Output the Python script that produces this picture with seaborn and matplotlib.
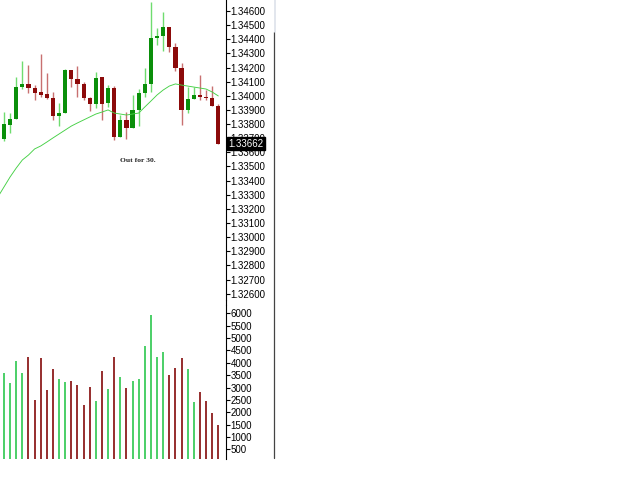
import numpy as np
import pandas as pd
import matplotlib
matplotlib.use("Agg")
import matplotlib.pyplot as plt
import seaborn as sns
from matplotlib.lines import Line2D

# ---------------- data ----------------
opens = [1.33691, 1.33792, 1.33839, 1.34059, 1.34087, 1.34052, 1.34026, 1.34010, 1.33988,
         1.33856, 1.33875, 1.34182, 1.34116, 1.34083, 1.33981, 1.33941, 1.34135, 1.33946,
         1.34052, 1.33705, 1.33828, 1.33773, 1.33903, 1.34017, 1.34083, 1.34406, 1.34423,
         1.34484, 1.34347, 1.34198, 1.33903, 1.33974, 1.34009, 1.33993, 1.33988, 1.33927]
highs = [1.33887, 1.33875, 1.34135, 1.34246, 1.34217, 1.34080, 1.34293, 1.34163, 1.34028,
         1.33946, 1.34187, 1.34182, 1.34210, 1.34099, 1.33995, 1.34170, 1.34135, 1.34076,
         1.34068, 1.33863, 1.33887, 1.34009, 1.34045, 1.34194, 1.34666, 1.34477, 1.34595,
         1.34484, 1.34371, 1.34229, 1.34059, 1.34059, 1.34146, 1.34040, 1.34068, 1.33941]
lows = [1.33680, 1.33738, 1.33839, 1.34045, 1.34017, 1.33969, 1.33995, 1.33980, 1.33828,
        1.33785, 1.33875, 1.34059, 1.33995, 1.33969, 1.33894, 1.33917, 1.33828, 1.33922,
        1.33686, 1.33705, 1.33691, 1.33773, 1.33785, 1.33993, 1.34028, 1.34360, 1.34319,
        1.34312, 1.34177, 1.33792, 1.33880, 1.33974, 1.33969, 1.33970, 1.33927, 1.33662]
closes = [1.33797, 1.33839, 1.34059, 1.34087, 1.34052, 1.34021, 1.34005, 1.33986, 1.33856,
          1.33875, 1.34182, 1.34116, 1.34083, 1.33981, 1.33941, 1.34128, 1.33941, 1.34052,
          1.33705, 1.33828, 1.33773, 1.33903, 1.34017, 1.34083, 1.34406, 1.34423, 1.34484,
          1.34347, 1.34198, 1.33903, 1.33974, 1.34009, 1.33993, 1.33988, 1.33927, 1.33662]
ma_values = [1.33284, 1.33355, 1.33426, 1.33489, 1.33546, 1.33581, 1.33624, 1.33645, 1.33673,
             1.33702, 1.33730, 1.33758, 1.33786, 1.33808, 1.33829, 1.33850, 1.33871, 1.33885,
             1.33900, 1.33878, 1.33871, 1.33864, 1.33871, 1.33878, 1.33921, 1.33963, 1.34006,
             1.34041, 1.34069, 1.34084, 1.34076, 1.34069, 1.34062, 1.34055, 1.34048, 1.34027,
             1.33999]
volumes = [3572, 3195, 4072, 3572, 4220, 2495, 4180, 2900, 3749, 3331, 3209, 3277, 3101,
           2292, 3007, 2468, 3654, 2927, 4220, 3413, 2995, 3264, 3331, 4679, 5933, 4247,
           4435, 3506, 3776, 4180, 3735, 2400, 2832, 2468, 1982, 1483]
last_price = 1.33662
price_ticks = [round(1.326 + 0.001 * k, 3) for k in range(21)]
volume_ticks = list(range(500, 6001, 500))
note_text = "Out for 30."

# ---------------- style ----------------
sns.set_style("white")
plt.rcParams["font.family"] = ["Liberation Sans", "DejaVu Sans"]

W, H = 625, 483
fig = plt.figure(figsize=(W / 100, H / 100), dpi=100)

def fx(px):
    return px / W

def fy(py):
    return 1 - py / H

ax_left, ax_right = 0, 226
p_top, p_bot = 0, 300
v_top, v_bot = 305, 459

axp = fig.add_axes([fx(ax_left), fy(p_bot), fx(ax_right - ax_left), (p_bot - p_top) / H])
axv = fig.add_axes([fx(ax_left), fy(v_bot), fx(ax_right - ax_left), (v_bot - v_top) / H])

idx = np.arange(len(opens))
o = np.array(opens); c = np.array(closes); h = np.array(highs); l = np.array(lows)
up = c >= o

green_body = "#0a8f0a"
green_wick = "#6fdc6f"
red_body = "#8c0a0a"
red_wick = "#c87070"

axp.vlines(idx[up], l[up], h[up], color=green_wick, lw=1.0, zorder=2)
axp.vlines(idx[~up], l[~up], h[~up], color=red_wick, lw=1.0, zorder=2)
bw = 0.68
axp.bar(idx[up], (c - o)[up], bottom=o[up], width=bw, color=green_body, lw=0, zorder=3)
red_h = np.maximum((o - c)[~up], 0.00003)
axp.bar(idx[~up], red_h, bottom=c[~up], width=bw, color=red_body, lw=0, zorder=3)

ma_df = pd.DataFrame({"x": np.arange(-1, len(opens)), "ma": ma_values})
sns.lineplot(data=ma_df, x="x", y="ma", ax=axp, color="#45d045", lw=0.65, zorder=4)

xlim = (-0.653, 36.26)
axp.set_xlim(*xlim)
axp.set_ylim(1.32555, 1.34678)
axp.set_xlabel(""); axp.set_ylabel("")

# volume bars as thin sticks
vol = np.array(volumes)
axv.vlines(idx[up], 0, vol[up], color="#3dcc5c", lw=1.3)
axv.vlines(idx[~up], 0, vol[~up], color="#8e1c1c", lw=1.3)
axv.set_xlim(*xlim)
axv.set_ylim(110, 6339)

for ax, ticks, fmt in ((axp, price_ticks, "{:.5f}"), (axv, volume_ticks, "{:d}")):
    ax.yaxis.tick_right()
    ax.set_yticks(ticks)
    ax.set_yticklabels([fmt.format(t) for t in ticks])
    ax.set_xticks([])
    ax.tick_params(axis="y", which="both", right=True, left=False, length=3, width=0.8,
                   color="black", labelsize=7, pad=0.2, labelcolor="black")
    for s in ("top", "left", "bottom"):
        ax.spines[s].set_visible(False)
    ax.spines["right"].set_color("black")
    ax.spines["right"].set_linewidth(0.8)
    ax.set_facecolor("white")
    ax.grid(False)

fig.add_artist(Line2D([fx(226), fx(226)], [fy(p_bot), fy(v_top)], color="black", lw=0.8))

axp.annotate(f"{last_price:.5f}", xy=(1.0, last_price), xycoords=("axes fraction", "data"),
             xytext=(1.6, 0), textcoords="offset points", ha="left", va="center",
             fontsize=7, color="white", zorder=10, annotation_clip=False,
             bbox=dict(boxstyle="square,pad=0.12", fc="black", ec="black"))

fig.text(fx(138), fy(160), note_text, ha="center", va="center", fontsize=5.4,
         fontweight="bold", family=["Liberation Serif", "DejaVu Serif"])

fig.add_artist(Line2D([fx(274), fx(274)], [fy(32), fy(458)], color="#444444", lw=0.9))
fig.add_artist(Line2D([fx(275), fx(275)], [fy(0), fy(32)], color="#dde2ea", lw=1.2))

fig.savefig("out.png", dpi=100)
